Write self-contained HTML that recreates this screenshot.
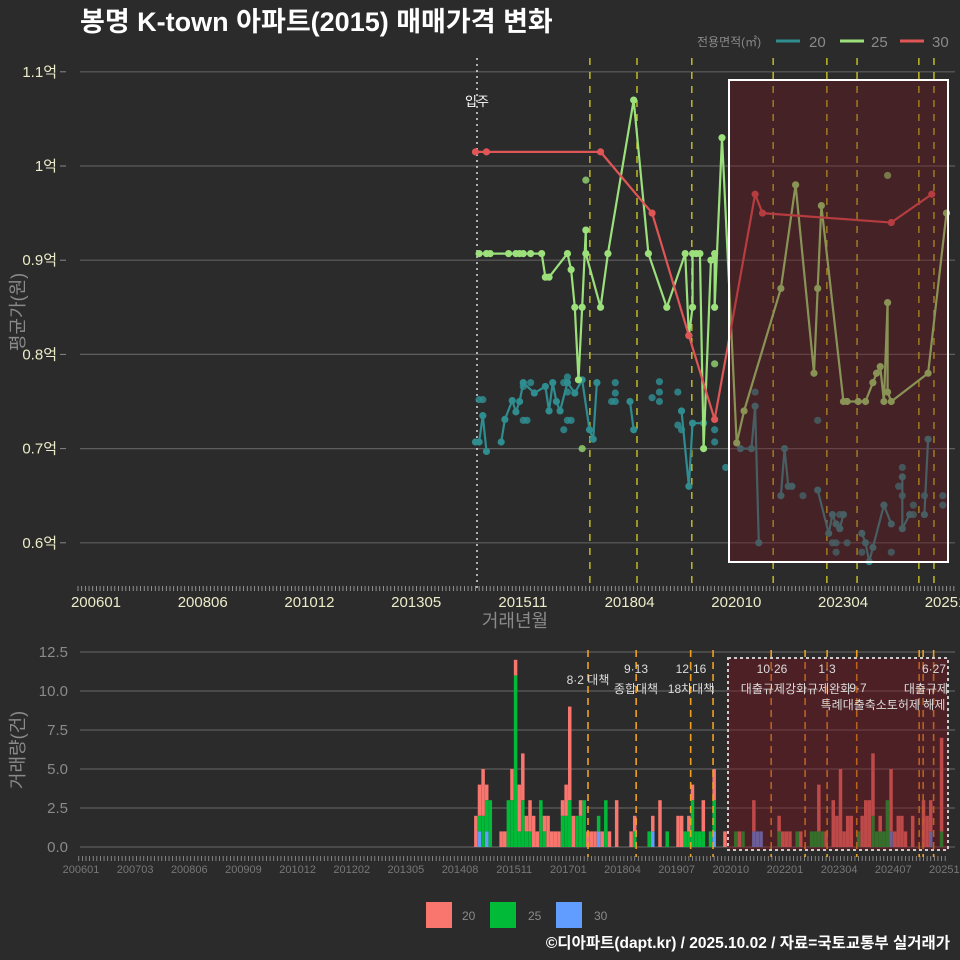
<!DOCTYPE html>
<html><head><meta charset="utf-8">
<style>
html,body{margin:0;padding:0;background:#2b2b2c;}
svg{display:block;font-family:"Liberation Sans","Noto Sans CJK KR",sans-serif;}
</style></head>
<body>
<svg id="chart" width="960" height="960" viewBox="0 0 960 960" xmlns="http://www.w3.org/2000/svg">
<rect width="960" height="960" fill="#2b2b2c"/>
<text x="80" y="31" font-size="27" font-weight="bold" fill="#ffffff">봉명 K-town 아파트(2015) 매매가격 변화</text>
<g>
<text x="697" y="46" font-size="12" fill="#8a8a8a">전용면적(㎡)</text>
<line x1="776" y1="41" x2="800" y2="41" stroke="#2f8c8f" stroke-width="3"/>
<text x="809" y="47" font-size="15" fill="#8a8a8a">20</text>
<line x1="840" y1="41" x2="864" y2="41" stroke="#9be07a" stroke-width="3"/>
<text x="871" y="47" font-size="15" fill="#8a8a8a">25</text>
<line x1="900" y1="41" x2="924" y2="41" stroke="#e05555" stroke-width="3"/>
<text x="932" y="47" font-size="15" fill="#8a8a8a">30</text>
</g>
<g id="topPanel"></g>
<g id="botPanel"></g>
<text x="515" y="627" text-anchor="middle" font-size="18" fill="#8a8a8a">거래년월</text>
<text transform="translate(24,312) rotate(-90)" text-anchor="middle" font-size="18" fill="#8a8a8a">평균가(원)</text>
<text transform="translate(24,750) rotate(-90)" text-anchor="middle" font-size="18" fill="#8a8a8a">거래량(건)</text>
<g>
<rect x="426" y="902" width="26" height="26" fill="#f8766d"/>
<text x="462" y="920" font-size="12" fill="#8a8a8a">20</text>
<rect x="490" y="902" width="26" height="26" fill="#00ba38"/>
<text x="528" y="920" font-size="12" fill="#8a8a8a">25</text>
<rect x="556" y="902" width="26" height="26" fill="#619cff"/>
<text x="594" y="920" font-size="12" fill="#8a8a8a">30</text>
</g>
<text x="950" y="948" text-anchor="end" font-size="15.5" font-weight="bold" fill="#ffffff">©디아파트(dapt.kr) / 2025.10.02 / 자료=국토교통부 실거래가</text>
</svg>
<script>
// ---------- price data ----------
const yTickVals = [0.6,0.7,0.8,0.9,1.0,1.1];
const yTickLabels = ['0.6억','0.7억','0.8억','0.9억','1억','1.1억'];
const xTickLabels = ['200601','200806','201012','201305','201511','201804','202010','202304','202510'];
const s30Dates = [201501,201504,201711,201901,201911,202006,202105,202107,202406,202505];
const s30Vals  = [1.015,1.015,1.015,0.95,0.82,0.731,0.97,0.95,0.94,0.97];
const s25Dates = [201502,201504,201505,201510,201512,201601,201602,201604,201607,201608,201609,201702,201703,201704,201705,201706,201707,201707,201711,201801,201808,201812,201905,201910,201911,201912,201912,202001,202002,202003,202005,202006,202006,202008,202012,202102,202112,202204,202209,202210,202211,202305,202306,202309,202311,202401,202402,202403,202404,202405,202405,202406,202504,202509];
const s25Vals  = [0.907,0.907,0.907,0.907,0.907,0.907,0.907,0.907,0.907,0.882,0.882,0.907,0.89,0.85,0.773,0.85,0.932,0.907,0.85,0.907,1.07,0.907,0.85,0.907,0.82,0.85,0.907,0.907,0.907,0.70,0.90,0.907,0.85,1.03,0.706,0.74,0.87,0.98,0.78,0.87,0.958,0.75,0.75,0.75,0.75,0.77,0.78,0.787,0.75,0.855,0.76,0.75,0.78,0.95];
const s25PtDates = [201707,201706,202006,202405];
const s25PtVals  = [0.985,0.70,0.79,0.99];
const s20Dates = [201501,201502,201503,201504,null,201508,201509,201511,201512,201601,201602,201605,201608,201609,201610,201611,201612,201702,201704,201706,201708,201709,201710,null,201807,201808,null,201909,201911,201912,202003,null,202101,202104,202105,202106,null,202112,202201,202202,202203,null,202210,202301,202302,202303,202304,202305,null,202310,202311,202312,202401,202404,202406,null,202409,202409,202411,null,202503,202504];
const s20Vals  = [0.707,0.707,0.735,0.697,null,0.707,0.731,0.751,0.739,0.75,0.77,0.759,0.766,0.74,0.77,0.75,0.74,0.77,0.759,0.773,0.72,0.71,0.77,null,0.75,0.72,null,0.74,0.66,0.727,0.727,null,0.70,0.70,0.745,0.60,null,0.65,0.70,0.66,0.66,null,0.656,0.61,0.63,0.62,0.615,0.63,null,0.61,0.60,0.58,0.595,0.64,0.62,null,0.67,0.615,0.63,null,0.63,0.71];
const s20PtDates = [201502,201503,201602,201603,201602,201604,201701,201701,201702,201702,201703,201702,201803,201803,201802,201803,201901,201903,201903,201903,201908,201908,201909,202006,202006,202009,202105,202206,202303,202302,202303,202304,202306,202310,202406,202408,202409,202409,202412,202412,202503,202508,202508,202210];
const s20PtVals  = [0.752,0.752,0.73,0.73,0.766,0.77,0.72,0.77,0.776,0.73,0.73,0.76,0.77,0.759,0.75,0.75,0.754,0.771,0.76,0.75,0.76,0.725,0.72,0.72,0.707,0.68,0.76,0.65,0.60,0.60,0.59,0.63,0.60,0.59,0.59,0.66,0.65,0.68,0.64,0.63,0.65,0.65,0.64,0.73];
const topPolicyMonths = [139.1,151.9,166.8,188.9,203.5,211.7,228.5,232.6];
// ---------- volume data ----------
const barMonths = [108,109,110,111,112,115,116,117,118,119,120,121,122,123,124,125,126,127,128,129,130,131,132,133,134,135,136,137,138,139,140,141,142,143,144,145,147,151,152,156,157,159,161,164,165,166,167,168,169,170,171,173,174,177,180,181,182,185,186,187,192,193,194,195,197,198,201,202,203,204,205,207,208,209,210,211,212,214,215,216,217,218,219,220,221,222,223,224,225,226,227,229,232,233,234,237];
const bar20 = [2,2,3,1,0,1,1,0,2,1,3,3,1,2,2,1,0,1,2,1,1,1,1,2,6,2,0,1,0,1,1,1,0,1,0,1,3,1,1,0,1,3,0,2,2,0,1,1,0,0,2,0,2,1,0,1,0,2,0,0,1,1,1,1,0,1,0,0,3,0,1,3,2,5,1,2,2,0,2,3,3,4,0,1,0,0,4,1,2,2,1,2,3,2,2,6];
const bar25 = [0,1,2,2,3,0,0,3,3,11,1,3,1,1,0,0,3,1,0,0,0,0,2,2,3,0,2,2,3,0,0,0,1,0,3,0,0,0,1,1,0,0,1,0,0,1,1,3,1,1,1,1,2,0,1,0,1,0,0,0,1,0,0,0,1,0,1,1,1,1,0,0,0,0,0,0,0,1,0,0,0,2,1,1,1,3,0,0,0,0,0,0,0,0,0,1];
const bar30 = [0,1,0,1,0,0,0,0,0,0,0,0,0,0,0,0,0,0,0,0,0,0,0,0,0,0,0,0,0,0,0,0,1,0,0,0,0,0,0,0,1,0,0,0,0,0,0,0,0,0,0,0,1,0,0,0,0,1,1,1,0,0,0,0,0,0,0,0,0,0,0,0,0,0,0,0,0,0,0,0,0,0,0,0,0,0,1,0,0,0,0,0,0,0,1,0];
const volTickVals = [0,2.5,5,7.5,10,12.5];
const volTickLabels = ['0.0','2.5','5.0','7.5','10.0','12.5'];
const volXTickLabels = ['200601','200703','200806','200909','201012','201202','201305','201408','201511','201701','201804','201907','202010','202201','202304','202407','202510'];
const botPolicyMonths = [139.06,152.4,167.5,173.7,189.8,199.2,205.3,213.5,230.8,231.9,234.8];

const NS='http://www.w3.org/2000/svg';
function mk(parent,tag,attrs){const e=document.createElementNS(NS,tag);for(const k in attrs)e.setAttribute(k,attrs[k]);parent.appendChild(e);return e;}
function mIdx(d){return (Math.floor(d/100)-2006)*12+(d%100-1);}
function X1(m){return 78+m*3.68;}
function Y1(v){return 166+(1-v)*942;}
function X2(m){return 86+m*3.61;}
function Y2(c){return 847-c*15.6;}

const topG=document.getElementById('topPanel');
yTickVals.forEach((v,i)=>{
  const g=mk(topG,'line',{x1:80,x2:955,y1:Y1(v),y2:Y1(v),stroke:'#5e5e5e','stroke-width':1.2});
  
  
  const t=mk(topG,'text',{x:57,y:Y1(v)+5,'text-anchor':'end','font-size':15,fill:'#ececc8'});
  t.textContent=yTickLabels[i];
  
  
  mk(topG,'line',{x1:60,x2:66,y1:Y1(v),y2:Y1(v),stroke:'#888'});
});
for(let m=0;m<=238;m++){mk(topG,'line',{x1:X1(m),x2:X1(m),y1:586,y2:591,stroke:'#aaa','stroke-width':0.8});}
xTickLabels.forEach((l,i)=>{
  const t=mk(topG,'text',{x:X1(i*29)+18,y:607,'text-anchor':'middle','font-size':15,fill:'#ececc8'});
  t.textContent=l;
  
  
});
let mv=mk(topG,'line',{x1:477,x2:477,y1:58,y2:588,stroke:'#dddddd','stroke-width':1.5,'stroke-dasharray':'2 4'});


let mvt=mk(topG,'text',{x:477,y:106,'text-anchor':'middle','font-size':13,fill:'#ffffff'});
mvt.textContent='입주';


topPolicyMonths.forEach(m=>{
  const l=mk(topG,'line',{x1:X1(m),x2:X1(m),y1:58,y2:588,stroke:'#d8d020','stroke-width':1.3,'stroke-dasharray':'7 7'});
  
  
});
function drawLine(dates,vals,color,name){
  let segs=[],cur=[];
  dates.forEach((d,i)=>{ if(d===null){if(cur.length)segs.push(cur);cur=[];} else cur.push([X1(mIdx(d)),Y1(vals[i])]); });
  if(cur.length)segs.push(cur);
  segs.forEach(s=>{
    const p=mk(topG,'polyline',{points:s.map(q=>q.join(',')).join(' '),fill:'none',stroke:color,'stroke-width':2.2,'stroke-linejoin':'round'});
    
    
    s.forEach(q=>{
      const c=mk(topG,'circle',{cx:q[0],cy:q[1],r:3.6,fill:color});
      
      
    });
  });
}
function drawPts(dates,vals,color,name){
  dates.forEach((d,i)=>{
    const c=mk(topG,'circle',{cx:X1(mIdx(d)),cy:Y1(vals[i]),r:3.6,fill:color,opacity:0.85});
    
    
  });
}
drawPts(s20PtDates,s20PtVals,'#2f8c8f','series-20');
drawLine(s20Dates,s20Vals,'#2f8c8f','series-20');
drawPts(s25PtDates,s25PtVals,'#8fce6e','series-25');
drawLine(s25Dates,s25Vals,'#9be07a','series-25');
drawLine(s30Dates,s30Vals,'#e05555','series-30');
let hl=mk(topG,'rect',{x:729,y:80,width:219,height:482,fill:'rgba(110,20,28,0.38)',stroke:'#ffffff','stroke-width':2});



const botG=document.getElementById('botPanel');
volTickVals.forEach((v,i)=>{
  const g=mk(botG,'line',{x1:80,x2:955,y1:Y2(v),y2:Y2(v),stroke:'#5e5e5e','stroke-width':1.2});
  
  
  const t=mk(botG,'text',{x:68,y:Y2(v)+5,'text-anchor':'end','font-size':15,fill:'#8a8a8a'});
  t.textContent=volTickLabels[i];
  
  
});
for(let m=-2;m<=238;m++){mk(botG,'line',{x1:X2(m),x2:X2(m),y1:856,y2:861,stroke:'#999','stroke-width':0.8});}
volXTickLabels.forEach((l,i)=>{
  const t=mk(botG,'text',{x:X2(i*15)-5,y:873,'text-anchor':'middle','font-size':11,fill:'#777'});
  t.textContent=l;
  
  
});
barMonths.forEach((m,i)=>{
  const x=X2(m)-1.75;
  let base=0;
  [[bar30[i],'#619cff','bar-30'],[bar25[i],'#00ba38','bar-25'],[bar20[i],'#f8766d','bar-20']].forEach(([c,col,nm])=>{
    if(c>0){
      const r=mk(botG,'rect',{x:x,y:Y2(base+c),width:3.5,height:Y2(base)-Y2(base+c),fill:col});
      
      
      base+=c;
    }
  });
});
botPolicyMonths.forEach(m=>{
  const l=mk(botG,'line',{x1:X2(m),x2:X2(m),y1:650,y2:857,stroke:'#f0a020','stroke-width':1.6,'stroke-dasharray':'7 5'});
  
  
});
let hb=mk(botG,'rect',{x:728,y:658,width:220,height:192,fill:'rgba(120,20,28,0.45)',stroke:'#cccccc','stroke-width':2,'stroke-dasharray':'3 3'});


const notes=[[588,684,'8·2 대책'],[636,673,'9·13'],[636,693,'종합대책'],[691,673,'12·16'],[691,693,'18차대책'],[772,673,'10·26'],[796,693,'대출규제강화규제완화'],[827,673,'1·3'],[858,692,'9·7'],[883,709,'특례대출축소토허제 해제'],[934,673,'6·27'],[948,693,'대출규제']];
notes.forEach(([x,y,s])=>{
  const t=mk(botG,'text',{x:x,y:y,'text-anchor':x>940?'end':'middle','font-size':12,fill:'#dddddd'});
  t.textContent=s;
  
  
});
</script>
</body></html>
